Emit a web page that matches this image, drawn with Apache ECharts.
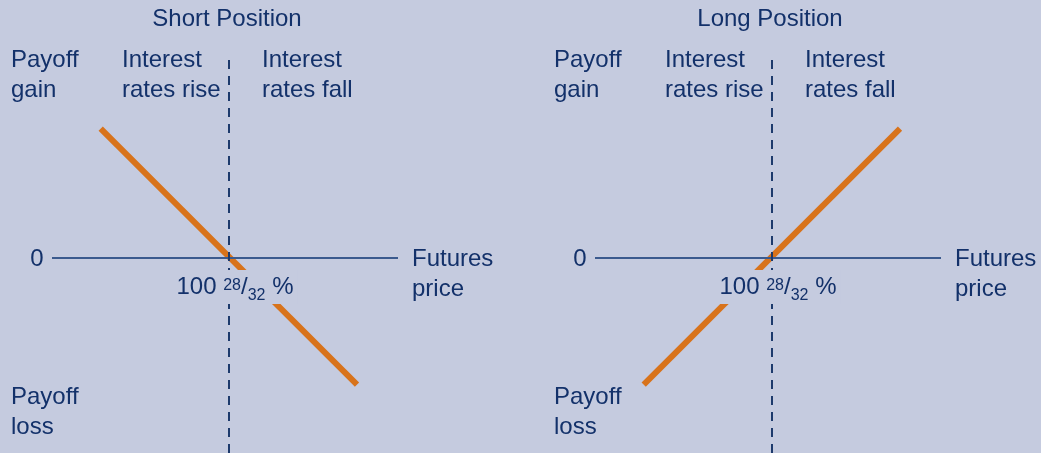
<!DOCTYPE html>
<html>
<head>
<meta charset="utf-8">
<script src="https://cdn.jsdelivr.net/npm/echarts@6/dist/echarts.min.js"></script>
<style>
  html, body { margin: 0; padding: 0; background: #c5cbdf; }
  #chart { width: 1041px; height: 453px; }
</style>
</head>
<body>
<div id="chart"></div>
<script>
// payoff lines (price offset from strike, payoff)
const panelTitles = ['Short Position', 'Long Position'];
const shortPrice = [-5, 5];
const shortPayoff = [5.05, -4.95];
const longPrice = [-5, 5];
const longPayoff = [-4.95, 5.05];
const strikePrice = 0;
const strikeLabel = ['100 ', '28', '/', '32', ' %'];

const bg = '#c5cbdf';
const navy = '#13316a';
const orange = '#d8731b';
const family = '"Liberation Sans", Arial, Helvetica, sans-serif';
const panelShift = 543;

const chart = echarts.init(document.getElementById('chart'));

const toPairs = (xs, ys) => xs.map((x, i) => [x, ys[i]]);
const lines = [toPairs(shortPrice, shortPayoff), toPairs(longPrice, longPayoff)];

const grids = [0, 1].map(i => ({ left: 52 + i * panelShift, width: 346, top: 56, bottom: 0 }));
const xAxes = [0, 1].map(i => ({ type: 'value', gridIndex: i, min: -6.9, max: 6.6, show: false }));
const yAxes = [0, 1].map(i => ({ type: 'value', gridIndex: i, min: -7.62, max: 7.89, show: false }));

const series = [];
[0, 1].forEach(i => {
  // axes: zero payoff line and strike price
  series.push({
    type: 'line', xAxisIndex: i, yAxisIndex: i, data: [], z: 2,
    markLine: {
      silent: true, symbol: 'none', label: { show: false }, animation: false,
      data: [
        { yAxis: 0, lineStyle: { color: '#3b5a8e', width: 2, type: 'solid' } },
        { xAxis: strikePrice, lineStyle: { color: '#1d3a6c', width: 2, type: [9, 7] } }
      ]
    }
  });
  series.push({
    type: 'line', xAxisIndex: i, yAxisIndex: i, data: lines[i], z: 3,
    symbol: 'none', animation: false,
    lineStyle: { color: orange, width: 6, cap: 'butt' }
  });
});

function txt(text, x, y, align, extra) {
  return {
    type: 'text', x, y, z: 10,
    style: Object.assign({
      text, fill: navy, font: '24px ' + family,
      align: align, verticalAlign: 'middle', lineHeight: 30
    }, extra || {})
  };
}

const graphics = [];
[0, 1].forEach(i => {
  const dx = i * panelShift;
  graphics.push(txt(panelTitles[i], 227 + dx, 19, 'center'));
  graphics.push(txt('Payoff\ngain', 11 + dx, 75, 'left'));
  graphics.push(txt('Interest\nrates rise', 122 + dx, 75, 'left'));
  graphics.push(txt('Interest\nrates fall', 262 + dx, 75, 'left'));
  graphics.push(txt('Payoff\nloss', 11 + dx, 412, 'left'));
  graphics.push(txt('0', 37 + dx, 259, 'center'));
  graphics.push(txt('Futures\nprice', 412 + dx, 274, 'left'));
  const tok = { fill: navy, fontFamily: family, lineHeight: 34 };
  graphics.push({
    type: 'text', x: 235 + dx, y: 287, z: 10,
    style: {
      text: '{n|' + strikeLabel[0] + '}{sup|' + strikeLabel[1] + '}{n|' + strikeLabel[2] + '}{sub|' + strikeLabel[3] + '}{n|' + strikeLabel[4] + '}',
      align: 'center', verticalAlign: 'middle',
      backgroundColor: bg, padding: [0, 4],
      rich: {
        n: Object.assign({ fontSize: 24 }, tok),
        sup: Object.assign({ fontSize: 16, verticalAlign: 'top', padding: [8, 0, 0, 0] }, tok),
        sub: Object.assign({ fontSize: 16, verticalAlign: 'bottom' }, tok)
      }
    }
  });
});

chart.setOption({
  backgroundColor: bg,
  animation: false,
  grid: grids,
  xAxis: xAxes,
  yAxis: yAxes,
  series: series,
  graphic: graphics
});
</script>
</body>
</html>
